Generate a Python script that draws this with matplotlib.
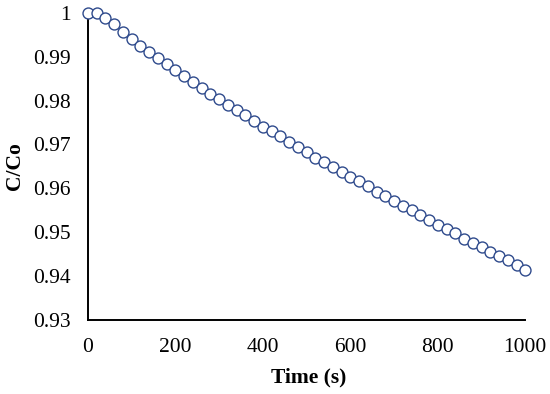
import numpy as np
import matplotlib
matplotlib.use("Agg")
import matplotlib.pyplot as plt
from matplotlib.ticker import FuncFormatter

# Data
time_s = np.arange(0, 1001, 20)
c_over_co = [
    1.0000, 1.0000, 0.9988, 0.9974, 0.9957, 0.9940, 0.9925, 0.9912, 0.9897, 0.9884,
    0.9870, 0.9856, 0.9843, 0.9828, 0.9815, 0.9803, 0.9790, 0.9779, 0.9767, 0.9754,
    0.9740, 0.9731, 0.9718, 0.9706, 0.9695, 0.9683, 0.9670, 0.9660, 0.9648, 0.9638,
    0.9626, 0.9617, 0.9604, 0.9592, 0.9582, 0.9571, 0.9559, 0.9549, 0.9539, 0.9527,
    0.9517, 0.9506, 0.9497, 0.9485, 0.9475, 0.9465, 0.9455, 0.9445, 0.9436, 0.9425,
    0.9413,
]
x_ticks = [0, 200, 400, 600, 800, 1000]
y_ticks = [0.93, 0.94, 0.95, 0.96, 0.97, 0.98, 0.99, 1.0]

plt.rcParams['font.family'] = ['Liberation Serif', 'DejaVu Serif']

fig = plt.figure(figsize=(5.5, 3.94), dpi=100)
ax = fig.add_axes([0.16, 0.189, 0.795, 0.778])

ax.plot(time_s, c_over_co, linestyle='none', marker='o', markersize=7.9,
        markerfacecolor='white', markeredgecolor='#2E4A8C', markeredgewidth=1.0,
        clip_on=False, zorder=3)

ax.set_xlim(0, 1000)
ax.set_ylim(0.93, 1.0)
ax.set_xticks(x_ticks)
ax.set_yticks(y_ticks)
ax.yaxis.set_major_formatter(FuncFormatter(lambda v, p: f"{v:g}"))
ax.tick_params(axis='both', length=0, labelsize=15.5)
ax.tick_params(axis='y', pad=12.5)
ax.tick_params(axis='x', pad=13)

for side in ['top', 'right']:
    ax.spines[side].set_visible(False)
for side in ['left', 'bottom']:
    ax.spines[side].set_linewidth(1.4)
    ax.spines[side].set_color('black')

ax.set_xlabel("Time (s)", fontsize=15.5, fontweight='bold')
ax.set_ylabel("C/Co", fontsize=15.5, fontweight='bold')
ax.xaxis.set_label_coords(0.505, -0.188)
ax.yaxis.set_label_coords(-0.167, 0.5)
ax.xaxis.label.set_va('center')
ax.yaxis.label.set_va('center')

fig.savefig("out.png", dpi=100)
